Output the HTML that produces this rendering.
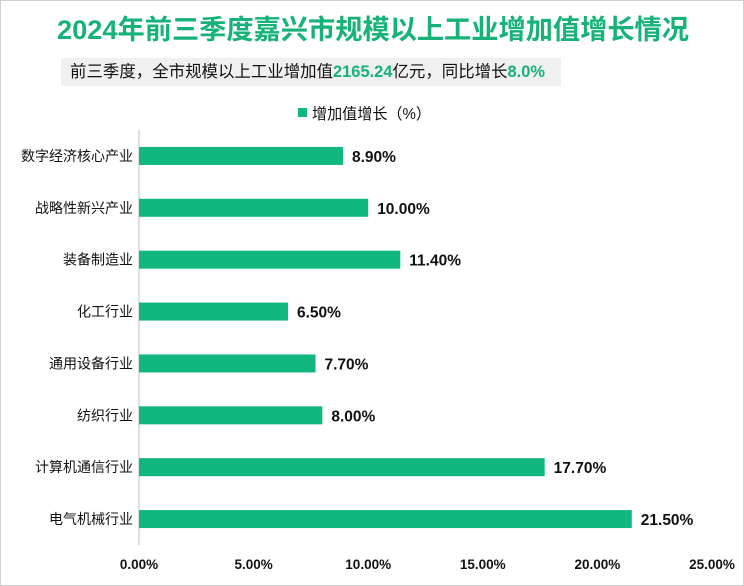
<!DOCTYPE html>
<html><head><meta charset="utf-8"><style>
body{margin:0;background:#fff;}
#wrap{position:relative;width:742px;height:584px;border:1px solid #d0d0d0;font-family:"Liberation Sans","Noto Sans CJK SC",sans-serif;overflow:hidden;}
#subbg{position:absolute;left:60px;top:57px;width:500px;height:28px;background:#f0f0f0;}
</style></head><body>
<div id="wrap">
<div id="subbg"></div>
<svg id="svg" width="744" height="586" style="position:absolute;left:-1px;top:-1px;font-family:'Liberation Sans','Noto Sans CJK SC',sans-serif">
<text x="57" y="39" font-size="27" font-weight="bold" fill="#16b27a" textLength="632" lengthAdjust="spacingAndGlyphs">2024年前三季度嘉兴市规模以上工业增加值增长情况</text>
<text x="70" y="77" font-size="16.5" fill="#111" textLength="475" lengthAdjust="spacingAndGlyphs">前三季度，全市规模以上工业增加值<tspan fill="#16b27a" font-weight="bold">2165.24</tspan>亿元，同比增长<tspan fill="#16b27a" font-weight="bold">8.0%</tspan></text>
</svg>
</div>
<script>
const categories=["数字经济核心产业","战略性新兴产业","装备制造业","化工行业","通用设备行业","纺织行业","计算机通信行业","电气机械行业"];
const values=[8.9,10.0,11.4,6.5,7.7,8.0,17.7,21.5];
const ticks=[0,5,10,15,20,25];
const NS="http://www.w3.org/2000/svg";
const svg=document.getElementById('svg');
const x0=139,x1=712,xmax=25;
const xs=v=>x0+(v/xmax)*(x1-x0);
const yTop=130,yBot=545;
const band=(yBot-yTop)/categories.length;
const yc=i=>yTop+band*(i+0.5);
function mk(t,a,txt){const e=document.createElementNS(NS,t);for(const k in a)e.setAttribute(k,a[k]);if(txt!==undefined)e.textContent=txt;svg.appendChild(e);return e;}
let lg=mk('rect',{x:298,y:108,width:9,height:9,fill:'#12b780'});


let lt=mk('text',{x:312,y:119,'font-size':15.5,fill:'#111',textLength:119,lengthAdjust:'spacingAndGlyphs'},'增加值增长（%）');


let ax=mk('line',{x1:x0,y1:yTop,x2:x0,y2:yBot,stroke:'#bfbfbf','stroke-width':1});


categories.forEach((c,i)=>{
 const y=yc(i);
 let r=mk('rect',{x:x0,y:y-9,width:xs(values[i])-x0,height:18,fill:'#12b780'});
 
 
 let l=mk('text',{x:133,y:y+5,'font-size':14,'text-anchor':'end',fill:'#111'},c);
 
 
 let v=mk('text',{x:xs(values[i])+9,y:y+6,'font-size':15.5,'font-weight':'bold',fill:'#111'},values[i].toFixed(2)+'%');
 
 
});
ticks.forEach(t=>{
 let e=mk('text',{x:xs(t),y:569,'font-size':13.5,'font-weight':'bold','text-anchor':'middle',fill:'#111'},t.toFixed(2)+'%');
 
 
});
</script>
</body></html>
